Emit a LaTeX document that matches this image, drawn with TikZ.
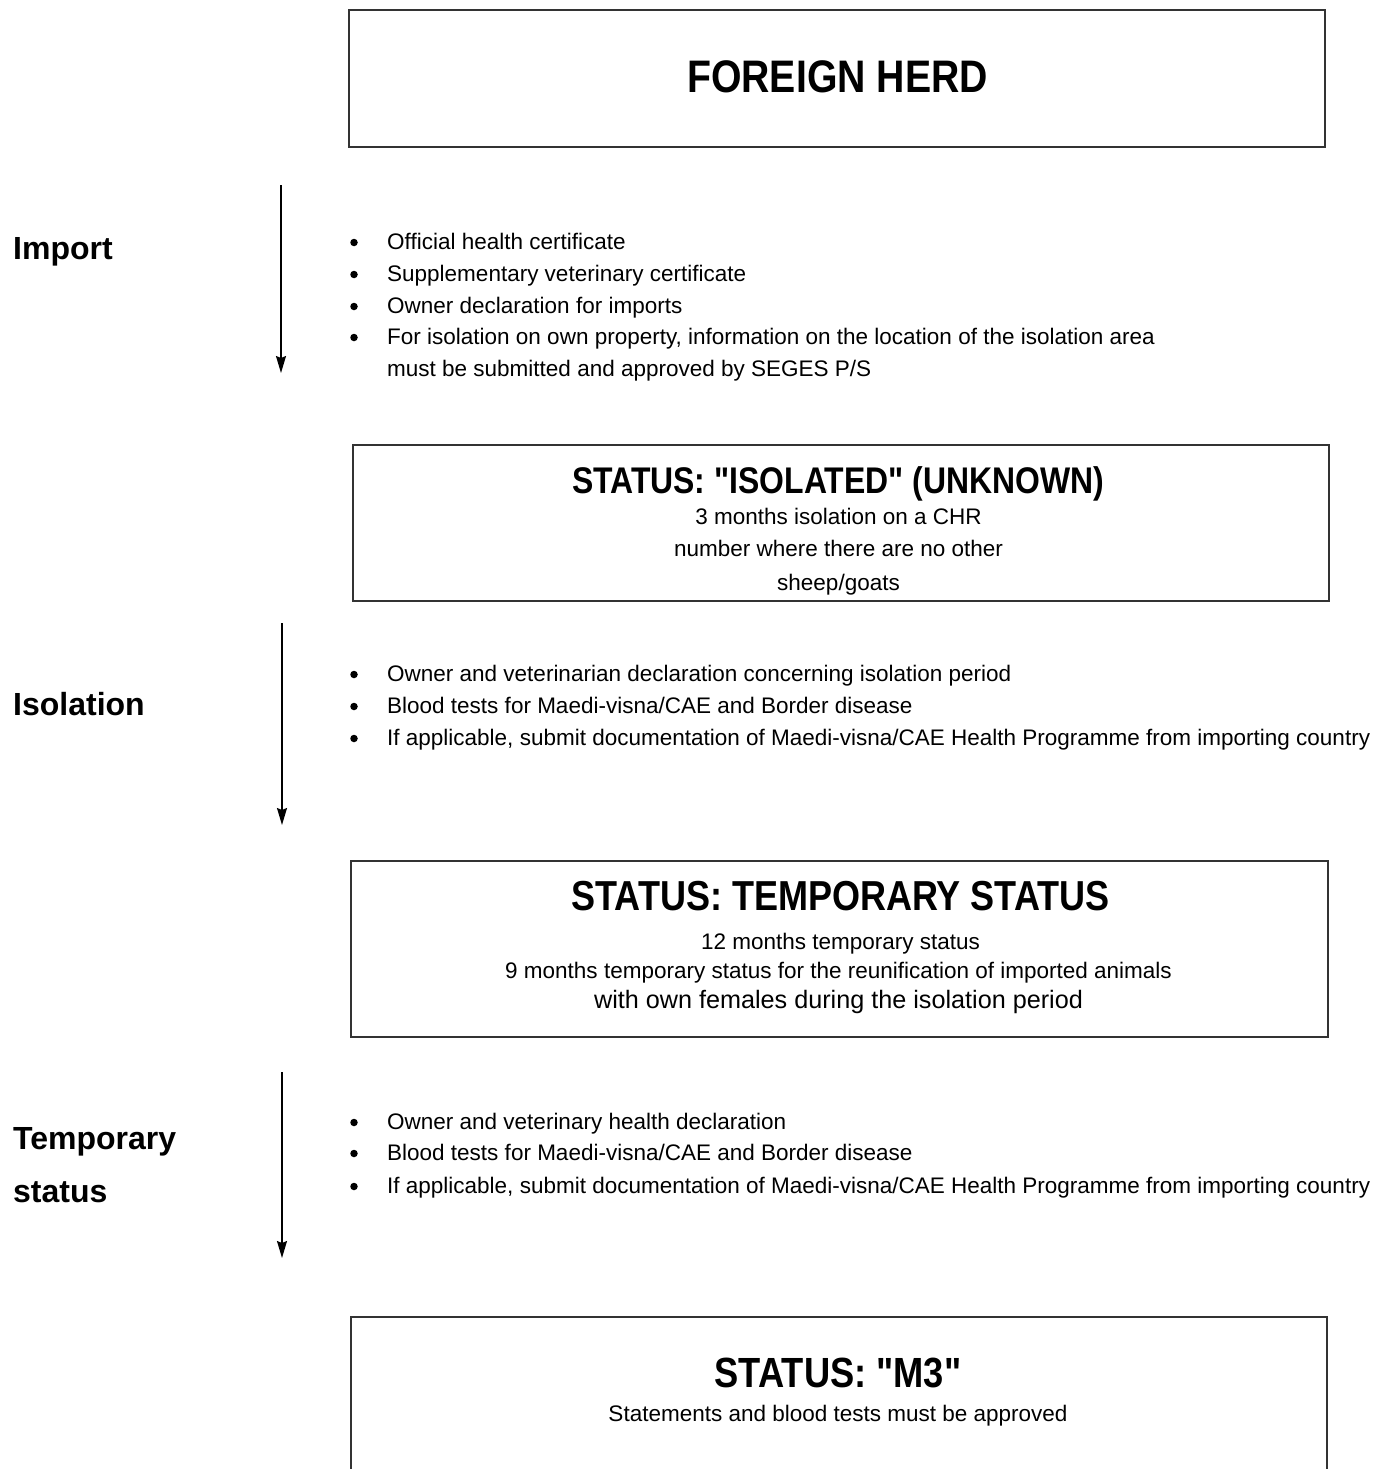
\documentclass[tikz,border=0pt]{standalone}
\usepackage{fontspec}
\setmainfont{Liberation Sans}
\newfontfamily\condfont[FakeStretch=0.86]{Liberation Sans}
\usetikzlibrary{arrows.meta}
\tikzset{
  box/.style={draw=black!80, line width=1.5pt, rectangle, inner sep=0pt},
  ttl/.style={anchor=base, inner sep=0pt, font=\condfont\bfseries\fontsize{#1}{#1}\selectfont},
  subt/.style={anchor=base, inner sep=0pt, font=\fontsize{#1}{#1}\selectfont},
  lbl/.style={anchor=base west, inner sep=0pt, font=\bfseries\fontsize{32}{38}\selectfont},
  btxt/.style={anchor=base west, inner sep=0pt, font=\fontsize{22.5}{27}\selectfont},
  bdot/.style={circle, fill=black, inner sep=0pt, minimum size=7.5pt},
  flow/.style={line width=1.4pt, -{Stealth[length=17pt,width=10pt,inset=2pt]}},
}
\begin{document}
\begin{tikzpicture}[x=1pt,y=-1pt]
\useasboundingbox (0,0) rectangle (1376,1469);
\clip (0,0) rectangle (1376,1469);
\fill[white] (0,0) rectangle (1376,1469);

% boxes
\node[box, minimum width=976pt, minimum height=137pt] (b1) at (837,78.5) {};
\node[box, minimum width=976pt, minimum height=156pt] (b2) at (841,523) {};
\node[box, minimum width=977pt, minimum height=176pt] (b3) at (839.5,949) {};
\node[box, minimum width=976pt, minimum height=163pt] (b4) at (839,1398.5) {};

% box texts
\node[ttl=45.6] (t1) at (837.5,93) {FOREIGN HERD};

\node[ttl=37.1] (t2) at (838,493) {STATUS: "ISOLATED" (UNKNOWN)};
\node[subt=22.5] (t2a) at (838.5,524) {3 months isolation on a CHR};
\node[subt=22.5] (t2b) at (838.5,556) {number where there are no other};
\node[subt=22.5] (t2c) at (838.5,590) {sheep/goats};

\node[ttl=41.9] (t3) at (840.5,910) {STATUS: TEMPORARY STATUS};
\node[subt=22.5] (t3a) at (840.5,949) {12 months temporary status};
\node[subt=22.5] (t3b) at (838.5,978) {9 months temporary status for the reunification of imported animals};
\node[subt=25.2] (t3c) at (838.5,1008) {with own females during the isolation period};

\node[ttl=42.2] (t4) at (838,1387) {STATUS: "M3"};
\node[subt=22.5] (t4a) at (838,1421) {Statements and blood tests must be approved};

% side labels
\node[lbl] (l1) at (13,259) {Import};
\node[lbl] (l2) at (13,715) {Isolation};
\node[lbl] (l3a) at (13,1149) {Temporary};
\node[lbl] (l3b) at (13,1202) {status};

% arrows
\coordinate (a1s) at (281,185);
\coordinate (a1e) at (281,373);
\coordinate (a2s) at (282,623);
\coordinate (a2e) at (282,825);
\coordinate (a3s) at (282,1072);
\coordinate (a3e) at (282,1258);
\draw[flow] (a1s) -- (a1e);
\draw[flow] (a2s) -- (a2e);
\draw[flow] (a3s) -- (a3e);

% import bullets
\node[bdot] (d11) at (354,242.5) {};
\node[btxt] (i11) at (387,249) {Official health certificate};
\node[bdot] (d12) at (354,274.5) {};
\node[btxt] (i12) at (387,281) {Supplementary veterinary certificate};
\node[bdot] (d13) at (354,306.5) {};
\node[btxt] (i13) at (387,313) {Owner declaration for imports};
\node[bdot] (d14) at (354,337.5) {};
\node[btxt] (i14) at (387,344) {For isolation on own property, information on the location of the isolation area};
\node[btxt] (i15) at (387,376) {must be submitted and approved by SEGES P/S};

% isolation bullets
\node[bdot] (d21) at (354,674.5) {};
\node[btxt] (i21) at (387,681) {Owner and veterinarian declaration concerning isolation period};
\node[bdot] (d22) at (354,706.5) {};
\node[btxt] (i22) at (387,713) {Blood tests for Maedi-visna/CAE and Border disease};
\node[bdot] (d23) at (354,738.5) {};
\node[btxt] (i23) at (387,745) {If applicable, submit documentation of Maedi-visna/CAE Health Programme from importing country};

% temporary status bullets
\node[bdot] (d31) at (354,1122.5) {};
\node[btxt] (i31) at (387,1129) {Owner and veterinary health declaration};
\node[bdot] (d32) at (354,1153.5) {};
\node[btxt] (i32) at (387,1160) {Blood tests for Maedi-visna/CAE and Border disease};
\node[bdot] (d33) at (354,1186.5) {};
\node[btxt] (i33) at (387,1193) {If applicable, submit documentation of Maedi-visna/CAE Health Programme from importing country};
\end{tikzpicture}
\end{document}
